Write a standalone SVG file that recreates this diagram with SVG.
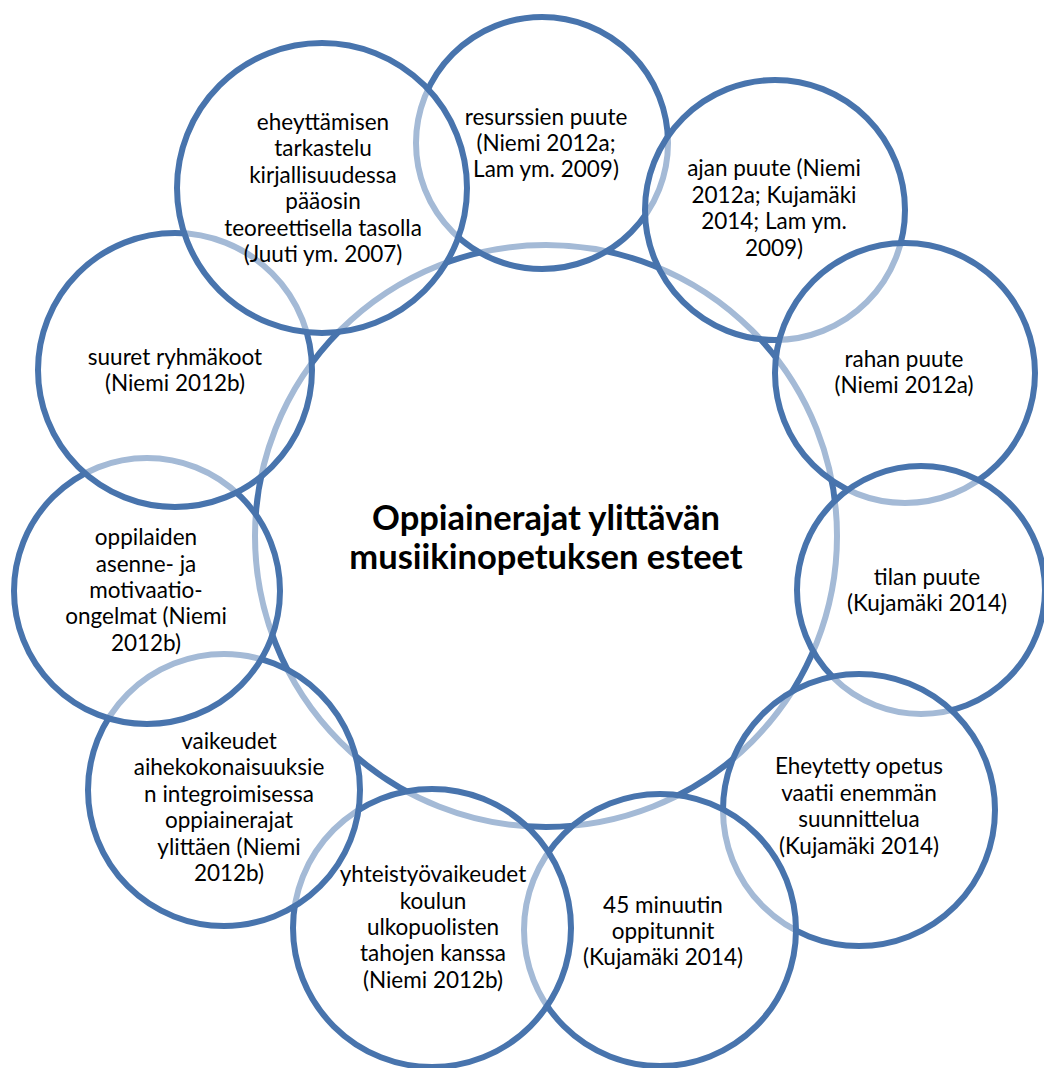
<svg xmlns="http://www.w3.org/2000/svg" width="1044" height="1068" viewBox="0 0 1044 1068">
  <style>
    .ring { fill: #ffffff; fill-opacity: 0.5; stroke: #4874ad; stroke-width: 6; }
    .t { font-family: Lato, "Open Sans", "Liberation Sans", sans-serif; font-size: 22.5px; fill: #000000; text-anchor: middle; }
    .title { font-family: Lato, "Open Sans", "Liberation Sans", sans-serif; font-size: 34.5px; font-weight: bold; fill: #000000; text-anchor: middle; }
  </style>
  <rect width="1044" height="1068" fill="#ffffff"/>

  <!-- hub -->
  <g id="hub">
    <circle class="ring" cx="546" cy="536" r="291"/>
    <text class="title" x="546" y="530">Oppiainerajat ylittävän</text>
    <text class="title" x="546" y="569">musiikinopetuksen esteet</text>
  </g>

  <!-- satellites, drawn clockwise from the top; each semi-transparent fill softens the rings beneath it -->
  <g id="resurssit">
    <circle class="ring" cx="542" cy="143" r="126"/>
    <text class="t" x="546" y="125">resurssien puute</text>
    <text class="t" x="546" y="151">(Niemi 2012a;</text>
    <text class="t" x="546" y="177">Lam ym. 2009)</text>
  </g>

  <g id="aika">
    <circle class="ring" cx="775" cy="210" r="130"/>
    <text class="t" x="774" y="176">ajan puute (Niemi</text>
    <text class="t" x="774" y="203">2012a; Kujamäki</text>
    <text class="t" x="774" y="229">2014; Lam ym.</text>
    <text class="t" x="774" y="256">2009)</text>
  </g>

  <g id="raha">
    <circle class="ring" cx="905" cy="373" r="130"/>
    <text class="t" x="904" y="367">rahan puute</text>
    <text class="t" x="904" y="393">(Niemi 2012a)</text>
  </g>

  <g id="tila">
    <circle class="ring" cx="921" cy="590" r="124"/>
    <text class="t" x="927" y="585">tilan puute</text>
    <text class="t" x="927" y="611">(Kujamäki 2014)</text>
  </g>

  <g id="suunnittelu">
    <circle class="ring" cx="859" cy="810" r="136"/>
    <text class="t" x="859" y="774">Eheytetty opetus</text>
    <text class="t" x="859" y="801">vaatii enemmän</text>
    <text class="t" x="859" y="827">suunnittelua</text>
    <text class="t" x="859" y="854">(Kujamäki 2014)</text>
  </g>

  <g id="oppitunnit">
    <circle class="ring" cx="660" cy="930" r="136"/>
    <text class="t" x="663" y="913">45 minuutin</text>
    <text class="t" x="663" y="939">oppitunnit</text>
    <text class="t" x="663" y="965">(Kujamäki 2014)</text>
  </g>

  <g id="yhteistyo">
    <circle class="ring" cx="432" cy="928" r="139"/>
    <text class="t" x="433" y="882">yhteistyövaikeudet</text>
    <text class="t" x="433" y="909">koulun</text>
    <text class="t" x="433" y="935">ulkopuolisten</text>
    <text class="t" x="433" y="961">tahojen kanssa</text>
    <text class="t" x="433" y="988">(Niemi 2012b)</text>
  </g>

  <g id="integrointi">
    <circle class="ring" cx="224" cy="790" r="136"/>
    <text class="t" x="229" y="749">vaikeudet</text>
    <text class="t" x="229" y="775">aihekokonaisuuksie</text>
    <text class="t" x="229" y="802">n integroimisessa</text>
    <text class="t" x="229" y="828">oppiainerajat</text>
    <text class="t" x="229" y="855">ylittäen (Niemi</text>
    <text class="t" x="229" y="881">2012b)</text>
  </g>

  <g id="motivaatio">
    <circle class="ring" cx="147" cy="591" r="133"/>
    <text class="t" x="146" y="545">oppilaiden</text>
    <text class="t" x="146" y="572">asenne- ja</text>
    <text class="t" x="146" y="598">motivaatio-</text>
    <text class="t" x="146" y="624">ongelmat (Niemi</text>
    <text class="t" x="146" y="651">2012b)</text>
  </g>

  <g id="ryhmakoot">
    <circle class="ring" cx="175" cy="370" r="137"/>
    <text class="t" x="175" y="365">suuret ryhmäkoot</text>
    <text class="t" x="175" y="391">(Niemi 2012b)</text>
  </g>

  <g id="teoria">
    <circle class="ring" cx="322" cy="188" r="145"/>
    <text class="t" x="323" y="130">eheyttämisen</text>
    <text class="t" x="323" y="156">tarkastelu</text>
    <text class="t" x="323" y="183">kirjallisuudessa</text>
    <text class="t" x="323" y="209">pääosin</text>
    <text class="t" x="323" y="236">teoreettisella tasolla</text>
    <text class="t" x="323" y="262">(Juuti ym. 2007)</text>
  </g>

  <!-- the layout has no connector lines; rings touch directly -->
  <g id="connectors"/>
</svg>
